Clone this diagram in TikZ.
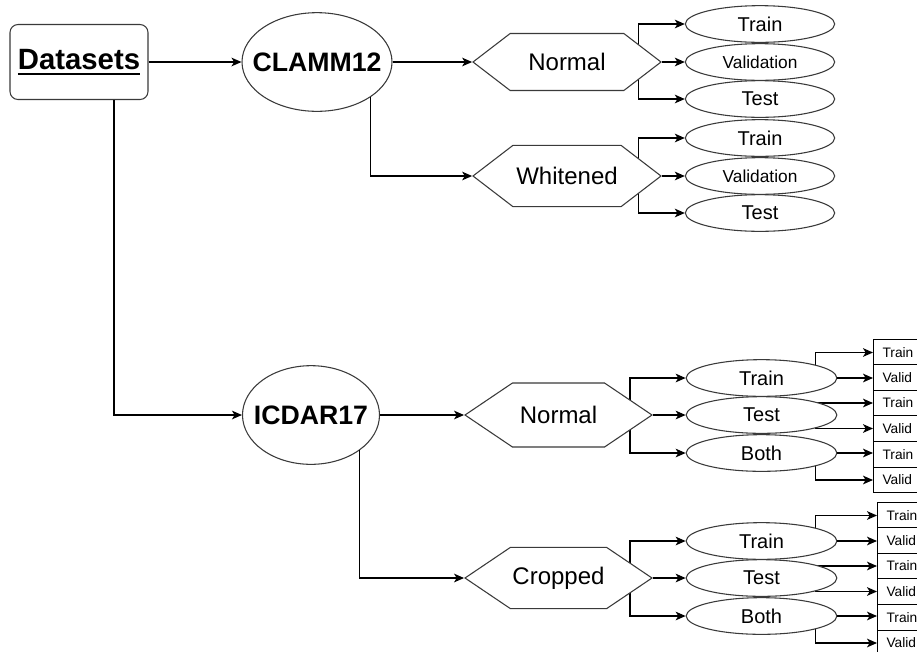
\documentclass[tikz,border=0pt]{standalone}
\usepackage{fontspec}
\setmainfont{Liberation Sans}
\usetikzlibrary{arrows.meta, positioning, shapes.geometric, shapes.symbols,
                calc, backgrounds}
\newcommand{\subrayado}[1]{\setbox0\hbox{#1}\rlap{\rule[-4.6pt]{\wd0}{1.8pt}}\box0}
\newcommand{\sinancho}[1]{\makebox[0pt]{#1}}
\definecolor{grisborde}{HTML}{3A3A3A}
\colorlet{colBorde}{grisborde}
\colorlet{colFlecha}{black}
\tikzset{
  formaBase/.style={
    draw=colBorde, line width=0.8pt, fill=white,
    align=center, inner sep=0pt
  },
  cajaRaiz/.style={formaBase, rounded corners=6pt,
    minimum width=103.5pt, minimum height=56.25pt,
    font=\fontsize{22}{26}\selectfont\bfseries},
  elipseDataset/.style={formaBase, ellipse, minimum height=74pt,
    font=\fontsize{20}{24}\selectfont\bfseries},
  hexaVariante/.style={formaBase, signal, signal to=east and west,
    minimum width=141pt, font=\fontsize{18}{22}\selectfont},
  elipseParticion/.style={formaBase, ellipse,
    minimum width=112pt, minimum height=27.5pt,
    font=\fontsize{15}{18}\selectfont},
  cajaSubset/.style={draw=black, line width=0.8pt, fill=white, anchor=west,
    minimum height=19.1pt, text width=37.5pt, inner xsep=6.75pt,
    inner ysep=0pt, align=left, font=\fontsize{10.3}{12}\selectfont},
  flecha/.style={-{Stealth[length=7.5pt, width=6.5pt, inset=2pt]},
    line width=0.9pt, colFlecha},
}

\begin{document}
\begin{tikzpicture}[x=0.75pt, y=-0.75pt]
    \useasboundingbox (0,0) rectangle (917,651);
    \clip (0,0) rectangle (917,651);

    % raiz y conjuntos de datos
    \node[cajaRaiz] (datasets) at (79,62) {\subrayado{Datasets}};
    \node[elipseDataset, minimum width=112.5pt] (clamm) at (317,62) {\sinancho{CLAMM12}};
    \node[elipseDataset, minimum width=102.75pt] (icdar) at (311,415) {\sinancho{ICDAR17}};

    \draw[flecha] (datasets.east) -- (clamm.west);
    \draw[flecha] ($(datasets.south)+(35,0)$) |- (icdar.west);

    % variantes
    \node[hexaVariante, minimum height=42.75pt, signal pointer angle=75]
      (cNormal) at (567,62) {Normal};
    \node[hexaVariante, minimum height=46pt, signal pointer angle=75]
      (cWhitened) at (567,176) {Whitened};
    \node[hexaVariante, minimum width=140.25pt, minimum height=48pt,
      signal pointer angle=68] (iNormal) at (558.5,415) {Normal};
    \node[hexaVariante, minimum width=140.25pt, minimum height=46pt,
      signal pointer angle=68] (iCropped) at (558.5,578) {Cropped};

    \draw[flecha] (clamm.east) -- (cNormal.west);
    \draw[flecha] (clamm.south east) |- (cWhitened.west);
    \draw[flecha] (icdar.east) -- (iNormal.west);
    \draw[flecha] (icdar.south east) |- (iCropped.west);

    % particiones de CLAMM12
    \foreach \grupo/\yc in {cNormal/62, cWhitened/176}{
        \node[elipseParticion] (\grupo-train) at (760,\yc-38) {Train};
        \node[elipseParticion, font=\fontsize{13}{16}\selectfont]
          (\grupo-val) at (760,\yc) {Validation};
        \node[elipseParticion] (\grupo-test) at (760,\yc+37) {Test};

        \draw[flecha] (\grupo.east) -- (\grupo-val.west);
        \begin{scope}[on background layer]
          \draw[flecha] ($(\grupo.east)+(-23,0)$) |- (\grupo-train.west);
          \draw[flecha] ($(\grupo.east)+(-23,0)$) |- (\grupo-test.west);
        \end{scope}
      }

    % particiones de ICDAR17 y sus subconjuntos
    \foreach \grupo/\xc/\yc in {iNormal/873/415, iCropped/877/578}{
        \node[elipseParticion, minimum width=113pt] (\grupo-train) at (761.5,\yc-37) {Train};
        \node[elipseParticion, minimum width=113pt] (\grupo-test) at (761.5,\yc) {Test};
        \node[elipseParticion, minimum width=113pt] (\grupo-both) at (761.5,\yc+38) {Both};

        \foreach \k/\dy/\txt in {1/-62.5/Train, 2/-37.5/Valid, 3/-12/Train,
            4/13.5/Valid, 5/39.5/Train, 6/65/Valid}{
            \node[cajaSubset] (\grupo-b\k) at (\xc,\yc+\dy) {\txt};
          }

        \draw[flecha] (\grupo.east) -- (\grupo-test.west);
        \draw[flecha] (\grupo-train.east) -- (\grupo-train.east -| \grupo-b2.west);
        \draw[flecha] (\grupo-both.east) -- (\grupo-both.east -| \grupo-b5.west);
        \begin{scope}[on background layer]
          \draw[flecha] ($(\grupo.east)+(-23,0)$) |- (\grupo-train.west);
          \draw[flecha] ($(\grupo.east)+(-23,0)$) |- (\grupo-both.west);
          \draw[flecha] ($(\grupo-train.east)+(-22,0)$) |- (\grupo-b1.west);
          \draw[flecha] ($(\grupo-test.east)+(-22,0)$) |- (\grupo-b3.west);
          \draw[flecha] ($(\grupo-test.east)+(-22,0)$) |- (\grupo-b4.west);
          \draw[flecha] ($(\grupo-both.east)+(-22,0)$) |- (\grupo-b6.west);
        \end{scope}
      }
  \end{tikzpicture}
\end{document}
